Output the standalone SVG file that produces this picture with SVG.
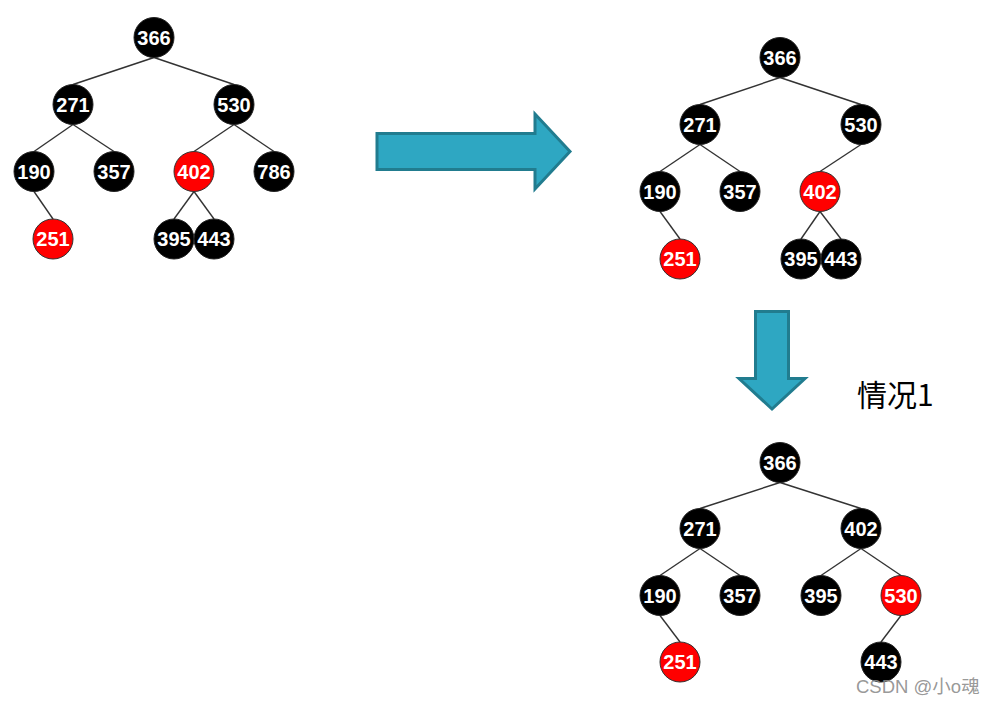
<svg xmlns="http://www.w3.org/2000/svg" width="993" height="704" viewBox="0 0 993 704">
<style>
.e{stroke:#333;stroke-width:1.4;fill:none}
.b{fill:#000;stroke:#222;stroke-width:1}
.r{fill:#ff0000;stroke:#333;stroke-width:1}
.t{fill:#fff;font-family:"Liberation Sans",Arial,sans-serif;font-weight:bold;font-size:20px;text-anchor:middle}
.arr{fill:#2ea7c2;stroke:#217c8f;stroke-width:3;stroke-linejoin:miter}
</style>
<rect width="993" height="704" fill="#fff"/>
<g id="connectors">
<!-- tree 1 -->
<line class="e" x1="154" y1="57.5" x2="73" y2="84.5"/>
<line class="e" x1="154" y1="57.5" x2="234" y2="84.5"/>
<line class="e" x1="73" y1="124.5" x2="34" y2="151.5"/>
<line class="e" x1="73" y1="124.5" x2="114" y2="151.5"/>
<line class="e" x1="234" y1="124.5" x2="194" y2="151.5"/>
<line class="e" x1="234" y1="124.5" x2="274" y2="151.5"/>
<line class="e" x1="34" y1="191.5" x2="53" y2="219"/>
<line class="e" x1="194" y1="191.5" x2="174" y2="219"/>
<line class="e" x1="194" y1="191.5" x2="214" y2="219"/>
<!-- tree 2 -->
<line class="e" x1="780" y1="77.5" x2="700" y2="104.5"/>
<line class="e" x1="780" y1="77.5" x2="861" y2="104.5"/>
<line class="e" x1="700" y1="144.5" x2="660" y2="171.5"/>
<line class="e" x1="700" y1="144.5" x2="740" y2="171.5"/>
<line class="e" x1="861" y1="144.5" x2="820" y2="171.5"/>
<line class="e" x1="660" y1="211.5" x2="680" y2="239"/>
<line class="e" x1="820" y1="211.5" x2="801" y2="239"/>
<line class="e" x1="820" y1="211.5" x2="841" y2="239"/>
<!-- tree 3 -->
<line class="e" x1="780" y1="482.5" x2="700" y2="508.5"/>
<line class="e" x1="780" y1="482.5" x2="861" y2="508.5"/>
<line class="e" x1="700" y1="548.5" x2="660" y2="575.5"/>
<line class="e" x1="700" y1="548.5" x2="740" y2="575.5"/>
<line class="e" x1="861" y1="548.5" x2="821" y2="575.5"/>
<line class="e" x1="861" y1="548.5" x2="901" y2="575.5"/>
<line class="e" x1="660" y1="615.5" x2="680" y2="642"/>
<line class="e" x1="901" y1="615.5" x2="881" y2="642"/>
</g>
<!-- tree 1 nodes -->
<g id="t1-366"><circle class="b" cx="154" cy="37.5" r="20"/><text class="t" x="154" y="44.5">366</text></g>
<g id="t1-271"><circle class="b" cx="73" cy="104.5" r="20"/><text class="t" x="73" y="111.5">271</text></g>
<g id="t1-530"><circle class="b" cx="234" cy="104.5" r="20"/><text class="t" x="234" y="111.5">530</text></g>
<g id="t1-190"><circle class="b" cx="34" cy="171.5" r="20"/><text class="t" x="34" y="178.5">190</text></g>
<g id="t1-357"><circle class="b" cx="114" cy="171.5" r="20"/><text class="t" x="114" y="178.5">357</text></g>
<g id="t1-402"><circle class="r" cx="194" cy="171.5" r="20"/><text class="t" x="194" y="178.5">402</text></g>
<g id="t1-786"><circle class="b" cx="274" cy="171.5" r="20"/><text class="t" x="274" y="178.5">786</text></g>
<g id="t1-251"><circle class="r" cx="53" cy="239" r="20"/><text class="t" x="53" y="246">251</text></g>
<g id="t1-395"><circle class="b" cx="174" cy="239" r="20"/><text class="t" x="174" y="246">395</text></g>
<g id="t1-443"><circle class="b" cx="214" cy="239" r="20"/><text class="t" x="214" y="246">443</text></g>
<!-- arrows -->
<g id="arrow-right"><polygon class="arr" points="377,133.5 535,133.5 535,114 570,151.5 535,189 535,169.5 377,169.5"/></g>
<g id="arrow-down"><polygon class="arr" points="755.5,311.5 788.5,311.5 788.5,378.5 805,378.5 772,409 739,378.5 755.5,378.5"/></g>
<g id="label-case1"><text x="857" y="406" font-family="'Noto Sans CJK SC',sans-serif" font-size="30" fill="#000">情况1</text></g>
<!-- tree 2 nodes -->
<g id="t2-366"><circle class="b" cx="780" cy="57.5" r="20"/><text class="t" x="780" y="64.5">366</text></g>
<g id="t2-271"><circle class="b" cx="700" cy="124.5" r="20"/><text class="t" x="700" y="131.5">271</text></g>
<g id="t2-530"><circle class="b" cx="861" cy="124.5" r="20"/><text class="t" x="861" y="131.5">530</text></g>
<g id="t2-190"><circle class="b" cx="660" cy="191.5" r="20"/><text class="t" x="660" y="198.5">190</text></g>
<g id="t2-357"><circle class="b" cx="740" cy="191.5" r="20"/><text class="t" x="740" y="198.5">357</text></g>
<g id="t2-402"><circle class="r" cx="820" cy="191.5" r="20"/><text class="t" x="820" y="198.5">402</text></g>
<g id="t2-251"><circle class="r" cx="680" cy="259" r="20"/><text class="t" x="680" y="266">251</text></g>
<g id="t2-395"><circle class="b" cx="801" cy="259" r="20"/><text class="t" x="801" y="266">395</text></g>
<g id="t2-443"><circle class="b" cx="841" cy="259" r="20"/><text class="t" x="841" y="266">443</text></g>
<!-- tree 3 nodes -->
<g id="t3-366"><circle class="b" cx="780" cy="462.5" r="20"/><text class="t" x="780" y="469.5">366</text></g>
<g id="t3-271"><circle class="b" cx="700" cy="528.5" r="20"/><text class="t" x="700" y="535.5">271</text></g>
<g id="t3-402"><circle class="b" cx="861" cy="528.5" r="20"/><text class="t" x="861" y="535.5">402</text></g>
<g id="t3-190"><circle class="b" cx="660" cy="595.5" r="20"/><text class="t" x="660" y="602.5">190</text></g>
<g id="t3-357"><circle class="b" cx="740" cy="595.5" r="20"/><text class="t" x="740" y="602.5">357</text></g>
<g id="t3-395"><circle class="b" cx="821" cy="595.5" r="20"/><text class="t" x="821" y="602.5">395</text></g>
<g id="t3-530"><circle class="r" cx="901" cy="595.5" r="20"/><text class="t" x="901" y="602.5">530</text></g>
<g id="t3-251"><circle class="r" cx="680" cy="662" r="20"/><text class="t" x="680" y="669">251</text></g>
<g id="t3-443"><circle class="b" cx="881" cy="662" r="20"/><text class="t" x="881" y="669">443</text></g>
<g id="watermark"><text x="856" y="693" font-family="'Liberation Sans','Noto Sans CJK SC',sans-serif" font-size="18.5" fill="#8c8c8c" fill-opacity="0.9">CSDN @小o魂</text></g>
</svg>
